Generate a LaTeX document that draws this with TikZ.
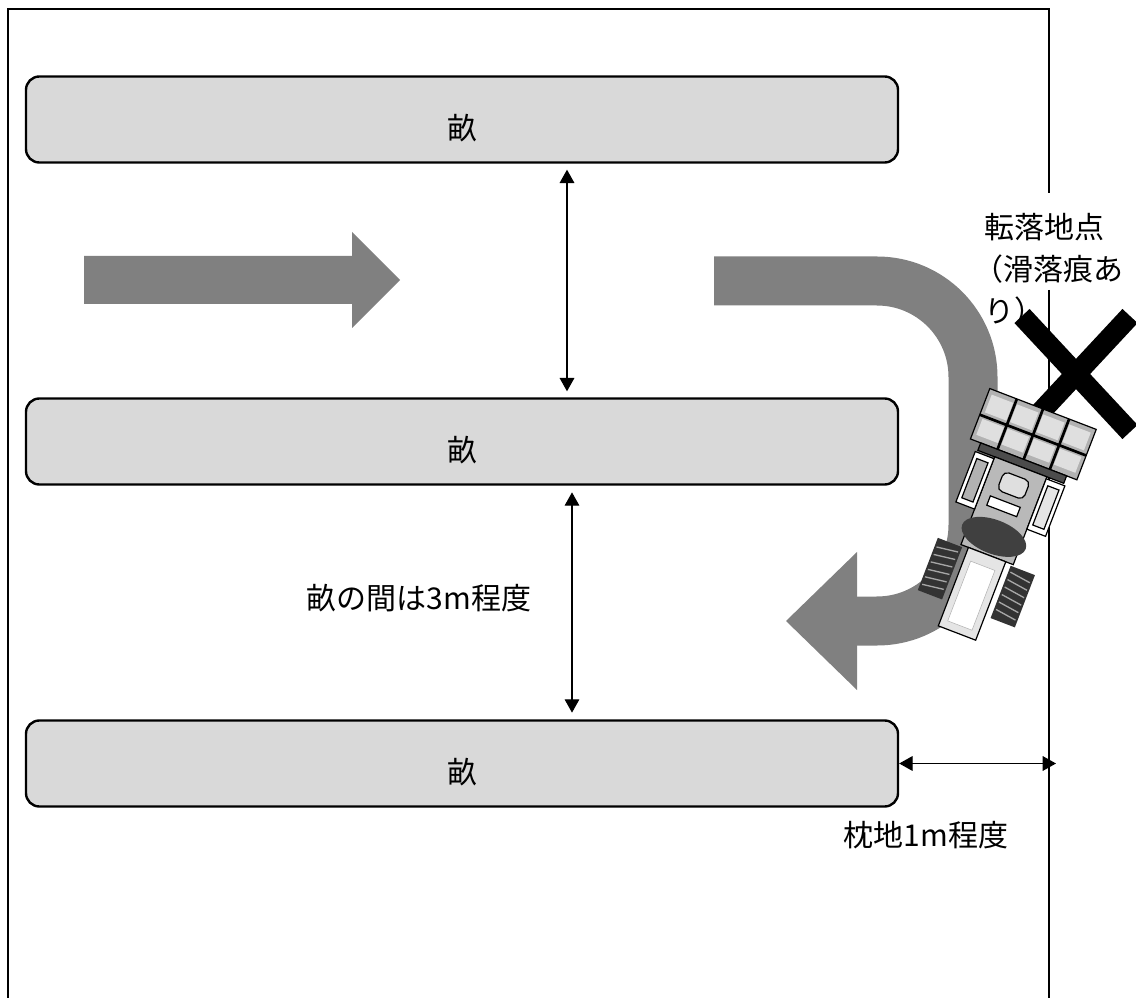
\documentclass[tikz,border=0pt]{standalone}
\usepackage{fontspec}
\newfontfamily\jp{Noto Sans CJK JP}
\usetikzlibrary{arrows.meta, positioning}
\definecolor{uneGray}{HTML}{D9D9D9}
\definecolor{routeGray}{HTML}{808080}

\begin{document}
\begin{tikzpicture}[x=0.75pt, y=-0.75pt, >={Triangle[length=10pt, width=11pt]}, node distance=241.5pt, font=\jp\fontsize{22.5pt}{31.5pt}\selectfont]
    \tikzstyle{une}=[draw, line width=1.8pt, fill=uneGray, rounded corners=10pt, minimum width=654pt, minimum height=64.5pt, text height=32pt]
    \tikzstyle{dim}=[<->, line width=0.8pt]
    \tikzstyle{fieldline}=[line width=1.6pt]
    \tikzstyle{route}=[draw=routeGray, line width=36.75pt]
    \tikzstyle{batsu}=[line width=15.5pt]
    \tikzstyle{part}=[draw, line width=0.9pt]

    \useasboundingbox (0,0) rectangle (1136,998);

    % field edge
    \draw[fieldline] (1049,193) -- (1049,9) -- (8,9) -- (8,998);
    \draw[fieldline] (1049,290) -- (1049,998);
    \coordinate (fieldR) at (1056,763.5);

    % beds
    \node[une] (uneA) at (462,119.5) {畝};
    \node[une, below of=uneA] (uneB) {畝};
    \node[une, below of=uneB] (uneC) {畝};

    \draw[dim] ([xshift=78.75pt, yshift=-4.5pt]uneA.south) -- ([xshift=78.75pt, yshift=4.5pt]uneB.north);
    \draw[dim] ([xshift=82.5pt, yshift=-5pt]uneB.south) -- ([xshift=82.5pt, yshift=5pt]uneC.north);
    \draw[dim] (uneC.east) -- (fieldR);

    \node (kankaku) at (419,598) {畝の間は3m程度};
    \node (makura) at (926,835) {枕地1m程度};

    % travel direction
    \fill[routeGray] (84,256) -- (352,256) -- (352,232) -- (400,280) -- (352,328) -- (352,304) -- (84,304) -- cycle;
    \draw[route, rounded corners=72pt] (714,281) -- (973,281) -- (973,621) -- (857,621);
    \fill[routeGray] (857,552) -- (786,621) -- (857,690) -- cycle;

    % fall point
    \draw[batsu] (1022,316) -- (1130,432);
    \draw[batsu] (1130,316) -- (1022,432);
    \node[anchor=north west, align=left, inner sep=0pt] (tenraku) at (984,213) {転落地点\\\hspace*{-0.35em}（滑落痕あ\\り）};

    % tractor
    \begin{scope}[shift={(1000,521)}, rotate=-21]
        \draw[part, fill=gray!60] (-57,-120) rectangle (57,-66);
        \foreach \x in {-53,-26,2,30}
            \fill[gray!25] (\x,-115) rectangle ++(23,19) (\x,-89) rectangle ++(23,17);
        \draw[line width=2pt] (-57,-92) -- (57,-92);
        \foreach \x in {-28,0,28}
            \draw[line width=2pt] (\x,-120) -- (\x,-66);
        \draw[part, fill=black!70] (-46,-66) rectangle (46,-58);
        \draw[part, fill=gray!55] (-28,-58) rectangle (28,36);
        \draw[part, fill=white] (-48,-56) rectangle (-28,-2);
        \draw[part, fill=gray!60] (-44,-50) rectangle (-32,-8);
        \draw[part, fill=white] (28,-56) rectangle (48,-2);
        \draw[part, fill=gray!20] (32,-50) rectangle (44,-8);
        \draw[part, fill=gray!25, rounded corners=4pt] (-14,-48) rectangle (14,-28);
        \draw[part, fill=white] (-18,-20) rectangle (14,-10);
        \fill[black!75] (0,17) ellipse [x radius=25.5pt, y radius=12.75pt];
        \foreach \s in {-1,1} {
            \fill[black!80] (\s*26,38) rectangle (\s*52,94);
            \foreach \t in {44,52,...,88}
                \draw[gray!70, line width=1pt] (\s*28,\t) -- (\s*50,\t+3);
        }
        \draw[part, fill=gray!20] (-20,36) rectangle (20,120);
        \draw[gray!60, fill=white] (-13,48) rectangle (13,112);
    \end{scope}
\end{tikzpicture}
\end{document}
